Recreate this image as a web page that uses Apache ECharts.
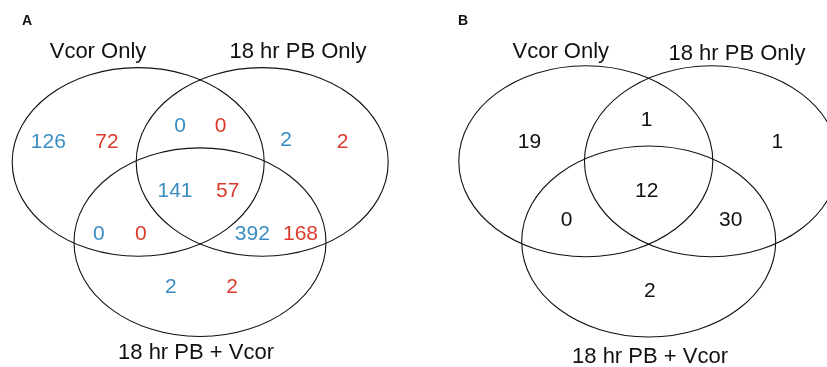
<!DOCTYPE html>
<html>
<head>
<meta charset="utf-8">
<script src="https://cdn.jsdelivr.net/npm/echarts@6/dist/echarts.min.js"></script>
<style>
html,body{margin:0;padding:0;background:#ffffff;}
#chart{width:827px;height:367px;}
</style>
</head>
<body>
<div id="chart"></div>
<script>
// ---------------- DATA ----------------
const panelLetters = ['A', 'B'];
const setNames = ['Vcor Only', '18 hr PB Only', '18 hr PB + Vcor'];
// region order: Vcor only, PB only, PB+Vcor only, Vcor∩PB, Vcor∩(PB+Vcor), PB∩(PB+Vcor), all three
const regionNames = ['Vcor only', '18 hr PB only', '18 hr PB + Vcor only',
  'Vcor & 18 hr PB', 'Vcor & 18 hr PB + Vcor', '18 hr PB & 18 hr PB + Vcor', 'all three'];
const panelABlue = [126, 2, 2, 0, 0, 392, 141];
const panelARed  = [72, 2, 2, 0, 0, 168, 57];
const panelBCounts = [19, 1, 2, 1, 0, 30, 12];

// ---------------- LAYOUT (diagram units = px inside each panel) ----------------
const layout = [
  {
    left: 0, width: 414,
    ellipses: [[138.2, 161.9], [262.2, 161.9], [200, 242.2]], rx: 126, ry: 94.3,
    setLabels: [[98, 51.5], [298, 51.5], [196, 353]],
    blue: [[48.3, 142], [286.2, 139.8], [170.8, 287.2], [180, 126.2], [98.8, 234.2], [252.3, 234.2], [175, 191.7]],
    red:  [[107, 142], [342.7, 142.2], [232.2, 287.2], [220.5, 126.2], [140.8, 234.2], [300.5, 234.2], [227.7, 191.7]]
  },
  {
    left: 414, width: 413,
    ellipses: [[171.8, 161.2], [297.5, 161.2], [234.7, 241.5]], rx: 127, ry: 95.5,
    setLabels: [[146.8, 51.5], [323, 53.5], [236, 356.7]],
    counts: [[115.5, 142.5], [363.3, 142], [235.8, 291.5], [232.5, 120.7], [152.5, 220], [316.7, 220], [232.7, 191.7]]
  }
];

const FONT = '"Liberation Sans", Arial, Helvetica, sans-serif';
const BLUE = '#3a8dc1';
const RED = '#dc3a2a';
const INK = '#111111';

const grids = layout.map(p => ({ left: p.left, top: 0, width: p.width, height: 367 }));
const xAxes = layout.map((p, i) => ({ type: 'value', gridIndex: i, min: 0, max: p.width, show: false }));
const yAxes = layout.map((p, i) => ({ type: 'value', gridIndex: i, min: 0, max: 367, inverse: true, show: false }));

function ellipseSeries(i) {
  const p = layout[i];
  return {
    type: 'custom', name: 'sets ' + panelLetters[i], xAxisIndex: i, yAxisIndex: i, silent: true,
    data: setNames.map((n, k) => [p.ellipses[k][0], p.ellipses[k][1], p.rx * 2, p.ry * 2]),
    renderItem(params, api) {
      const c = api.coord([api.value(0), api.value(1)]);
      const s = api.size([api.value(2), api.value(3)]);
      return {
        type: 'ellipse',
        shape: { cx: c[0], cy: c[1], rx: s[0] / 2, ry: s[1] / 2 },
        style: { fill: 'none', stroke: INK, lineWidth: 1.1 }
      };
    }
  };
}

function textSeries(i, name, positions, values, color, size) {
  return {
    type: 'custom', name: name, xAxisIndex: i, yAxisIndex: i, silent: true,
    data: values.map((v, k) => [positions[k][0], positions[k][1], k]),
    renderItem(params, api) {
      const c = api.coord([api.value(0), api.value(1)]);
      const v = values[api.value(2)];
      return {
        type: 'text', x: c[0], y: c[1],
        style: { text: String(v), fill: color, fontSize: size, fontFamily: FONT, align: 'center', verticalAlign: 'middle' }
      };
    }
  };
}

const series = [
  ellipseSeries(0),
  ellipseSeries(1),
  textSeries(0, 'set names A', layout[0].setLabels, setNames, INK, 22),
  textSeries(1, 'set names B', layout[1].setLabels, setNames, INK, 22),
  textSeries(0, 'A blue', layout[0].blue, panelABlue, BLUE, 21),
  textSeries(0, 'A red', layout[0].red, panelARed, RED, 21),
  textSeries(1, 'B counts', layout[1].counts, panelBCounts, INK, 21)
];

const chart = echarts.init(document.getElementById('chart'), null, { renderer: 'canvas' });
chart.setOption({
  animation: false,
  backgroundColor: '#ffffff',
  title: [
    { text: panelLetters[0], left: 22, top: 14, padding: 0, textStyle: { fontSize: 14, fontWeight: 'bold', color: INK, fontFamily: FONT } },
    { text: panelLetters[1], left: 458, top: 14, padding: 0, textStyle: { fontSize: 14, fontWeight: 'bold', color: INK, fontFamily: FONT } }
  ],
  grid: grids,
  xAxis: xAxes,
  yAxis: yAxes,
  series: series
});
</script>
</body>
</html>
